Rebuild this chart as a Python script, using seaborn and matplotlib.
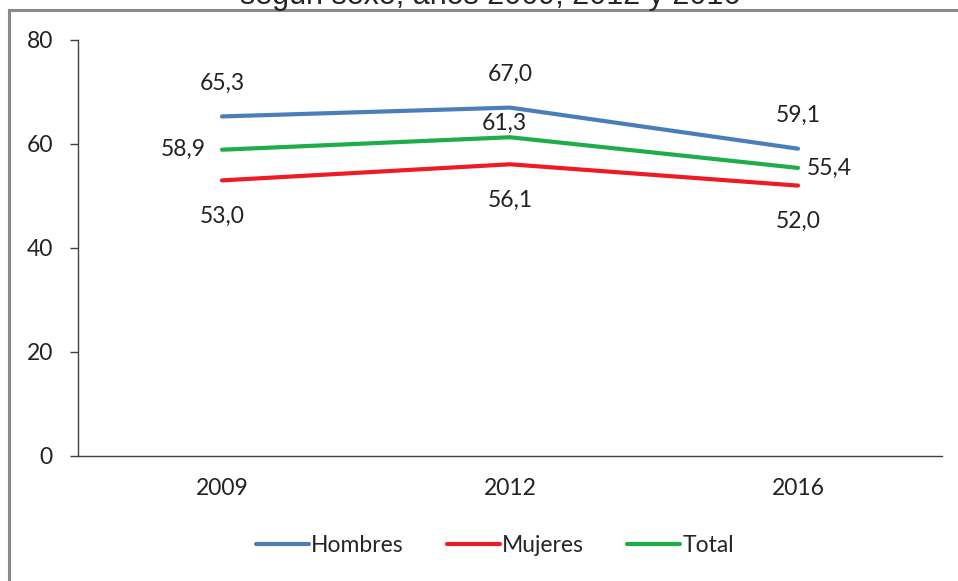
import pandas as pd
import matplotlib.pyplot as plt
import seaborn as sns
from matplotlib.patches import Rectangle

# Datos del gráfico
anios = ['2009', '2012', '2016']
hombres = [65.3, 67.0, 59.1]
mujeres = [53.0, 56.1, 52.0]
total = [58.9, 61.3, 55.4]
series = ['Hombres', 'Mujeres', 'Total']
colores = ['#4A7EBB', '#ED1C24', '#1DAE4A']
etiquetas_y = [0, 20, 40, 60, 80]

df = pd.DataFrame({
    'Año': anios * 3,
    'Valor': hombres + mujeres + total,
    'Serie': ['Hombres'] * 3 + ['Mujeres'] * 3 + ['Total'] * 3,
})

sns.set_style('white')
plt.rcParams['font.family'] = ['Lato', 'DejaVu Sans']

fig = plt.figure(figsize=(9.58, 5.81), dpi=100)
W, H = 958, 581
ax = fig.add_axes([78 / W, 1 - 456 / H, (942 - 78) / W, (456 - 40) / H])

sns.lineplot(data=df, x='Año', y='Valor', hue='Serie', hue_order=series,
             palette=colores, linewidth=3, ax=ax, sort=False)

# Etiquetas de datos
fs = 16.5
offsets = {
    'Hombres': [(0, 24, 'center'), (0, 24, 'center'), (0, 24, 'center')],
    'Mujeres': [(0, -26, 'center'), (0, -26, 'center'), (0, -26, 'center')],
    'Total': [(-12, 0, 'right'), (-4, 10, 'center'), (6, 0, 'left')],
}
valores = {'Hombres': hombres, 'Mujeres': mujeres, 'Total': total}
for s in series:
    for i, v in enumerate(valores[s]):
        dx, dy, ha = offsets[s][i]
        ax.annotate(f'{v:.1f}'.replace('.', ','), (i, v), xytext=(dx, dy),
                    textcoords='offset points', ha=ha, va='center',
                    fontsize=fs, color='#222222')

ax.set_xlim(-0.5, 2.5)
ax.set_ylim(0, 80)
ax.set_yticks(etiquetas_y)
ax.set_xticks([0, 1, 2])
ax.set_xticks([-0.5, 0.5, 1.5, 2.5], minor=True)
ax.tick_params(axis='x', which='major', length=0, pad=16, labelsize=fs, labelcolor='#222222')
ax.tick_params(axis='x', which='minor', length=7, width=1, color='#404040', direction='out')
ax.tick_params(axis='y', length=6, width=1, color='#404040', direction='out',
               pad=12, labelsize=fs, labelcolor='#222222', left=True)
ax.set_xlabel('')
ax.set_ylabel('')
for lado in ['top', 'right']:
    ax.spines[lado].set_visible(False)
for lado in ['left', 'bottom']:
    ax.spines[lado].set_color('#404040')
    ax.spines[lado].set_linewidth(1)

sns.move_legend(ax, 'center', bbox_to_anchor=(495 / W, 1 - 546 / H),
                bbox_transform=fig.transFigure, ncol=3, frameon=False,
                title=None, fontsize=fs, handlelength=2.3, handletextpad=0.1,
                columnspacing=1.9)

# Título (cortado en la imagen original) y marco
fig.text(490 / W, 1 - 4 / H, 'según sexo, años 2009, 2012 y 2016',
         ha='center', va='baseline', fontsize=22, family='Liberation Sans')
fig.patches.append(Rectangle((9 / W, -0.1), 1.2, 1 - 10 / H + 0.1,
                             transform=fig.transFigure, fill=False,
                             edgecolor='#8a8a8a', linewidth=2.2))

fig.savefig('out.png', dpi=100)
